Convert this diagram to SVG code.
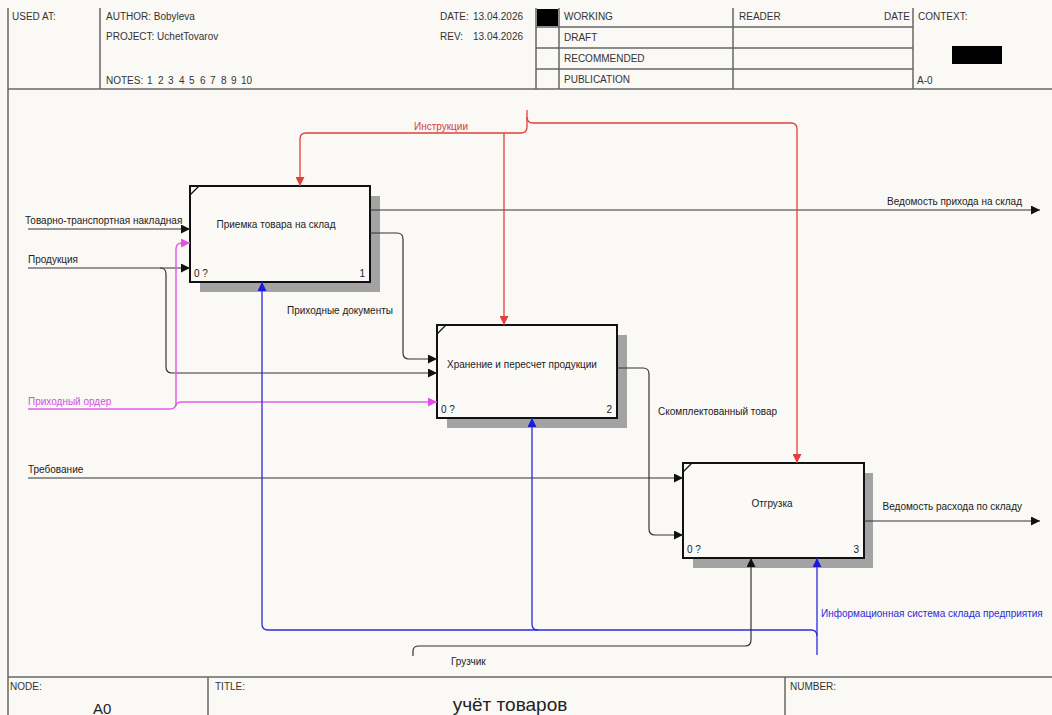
<svg xmlns="http://www.w3.org/2000/svg" width="1052" height="715" viewBox="0 0 1052 715">
<defs>
<style>
text{font-family:"Liberation Sans",Arial,sans-serif;font-size:10px;fill:#222}
.hd{font-size:10px;fill:#333}
.frame{fill:none;stroke:#666;stroke-width:1.5}
.box{fill:#fbfaf7;stroke:#111;stroke-width:2}
.shadow{fill:#a3a3a3}
.k{fill:none;stroke:#333;stroke-width:1.2}
.r{fill:none;stroke:#e0403a;stroke-width:1.3}
.b{fill:none;stroke:#2a2ae0;stroke-width:1.3}
.m{fill:none;stroke:#e060e8;stroke-width:1.5}
</style>
<marker id="ak" viewBox="0 0 10 10" refX="10" refY="5" markerWidth="9" markerHeight="9" markerUnits="userSpaceOnUse" orient="auto"><path d="M0,0 L10,5 L0,10 z" fill="#111"/></marker>
<marker id="ar" viewBox="0 0 10 10" refX="10" refY="5" markerWidth="9" markerHeight="9" markerUnits="userSpaceOnUse" orient="auto"><path d="M0,0 L10,5 L0,10 z" fill="#e0403a"/></marker>
<marker id="ab" viewBox="0 0 10 10" refX="10" refY="5" markerWidth="9" markerHeight="9" markerUnits="userSpaceOnUse" orient="auto"><path d="M0,0 L10,5 L0,10 z" fill="#1a1ae0"/></marker>
<marker id="am" viewBox="0 0 10 10" refX="10" refY="5" markerWidth="9" markerHeight="9" markerUnits="userSpaceOnUse" orient="auto"><path d="M0,0 L10,5 L0,10 z" fill="#e050e8"/></marker>
</defs>
<rect x="0" y="0" width="1052" height="715" fill="#faf9f5"/>

<g id="header">
<line class="frame" x1="8" y1="8" x2="8" y2="715"/>
<line class="frame" x1="8" y1="89" x2="1052" y2="89"/>
<line class="frame" x1="100" y1="8" x2="100" y2="89"/>
<line class="frame" x1="536" y1="8" x2="536" y2="89"/>
<line class="frame" x1="559" y1="8" x2="559" y2="89"/>
<line class="frame" x1="733" y1="8" x2="733" y2="89"/>
<line class="frame" x1="913" y1="8" x2="913" y2="89"/>
<line class="frame" x1="536" y1="27" x2="913" y2="27"/>
<line class="frame" x1="536" y1="48" x2="913" y2="48"/>
<line class="frame" x1="536" y1="69" x2="913" y2="69"/>
<rect x="537" y="9" width="21" height="17" fill="#000"/>
<rect x="952" y="46" width="50" height="18" fill="#000"/>
<text class="hd" x="12" y="20">USED AT:</text>
<text class="hd" x="106" y="20">AUTHOR:  Bobyleva</text>
<text class="hd" x="106" y="40">PROJECT:  UchetTovarov</text>
<text class="hd" x="106" y="84">NOTES:</text>
<text class="hd" y="84"><tspan x="147">1</tspan><tspan x="158">2</tspan><tspan x="168">3</tspan><tspan x="179">4</tspan><tspan x="189">5</tspan><tspan x="200">6</tspan><tspan x="210">7</tspan><tspan x="221">8</tspan><tspan x="231">9</tspan><tspan x="241">10</tspan></text>
<text class="hd" x="440" y="20">DATE:</text>
<text class="hd" x="473" y="20">13.04.2026</text>
<text class="hd" x="440" y="40">REV:</text>
<text class="hd" x="473" y="40">13.04.2026</text>
<text class="hd" x="564" y="20">WORKING</text>
<text class="hd" x="564" y="41">DRAFT</text>
<text class="hd" x="564" y="62">RECOMMENDED</text>
<text class="hd" x="564" y="83">PUBLICATION</text>
<text class="hd" x="739" y="20">READER</text>
<text class="hd" x="910" y="20" text-anchor="end">DATE</text>
<text class="hd" x="918" y="20">CONTEXT:</text>
<text class="hd" x="917" y="84">A-0</text>
</g>

<g id="footer">
<line class="frame" x1="8" y1="677" x2="1052" y2="677"/>
<line class="frame" x1="208" y1="677" x2="208" y2="715"/>
<line class="frame" x1="785" y1="677" x2="785" y2="715"/>
<text class="hd" x="10" y="690">NODE:</text>
<text class="hd" x="215" y="690">TITLE:</text>
<text class="hd" x="790" y="690">NUMBER:</text>
<text x="93" y="714" style="font-size:15px">A0</text>
<text x="510" y="711" text-anchor="middle" style="font-size:19px">учёт товаров</text>
</g>

<g id="node1">
<rect class="shadow" x="200" y="196" width="180" height="96"/>
<rect class="box" x="190" y="186" width="180" height="96"/>
<line x1="190" y1="195" x2="199" y2="186" stroke="#111" stroke-width="1.2"/>
<text x="276" y="228" text-anchor="middle">Приемка товара на склад</text>
<text x="194" y="277">0 ?</text>
<text x="365" y="277" text-anchor="end">1</text>
</g>

<g id="node2">
<rect class="shadow" x="447" y="335" width="180" height="93"/>
<rect class="box" x="437" y="325" width="180" height="93"/>
<line x1="437" y1="334" x2="446" y2="325" stroke="#111" stroke-width="1.2"/>
<text x="522" y="368" text-anchor="middle">Хранение и пересчет продукции</text>
<text x="441" y="413">0 ?</text>
<text x="612" y="413" text-anchor="end">2</text>
</g>

<g id="node3">
<rect class="shadow" x="693" y="473" width="180" height="95"/>
<rect class="box" x="683" y="463" width="181" height="95"/>
<line x1="683" y1="472" x2="692" y2="463" stroke="#111" stroke-width="1.2"/>
<text x="772" y="507" text-anchor="middle">Отгрузка</text>
<text x="687" y="553">0 ?</text>
<text x="859" y="553" text-anchor="end">3</text>
</g>

<g id="connectors">
<path class="k" d="M28,229 H190" marker-end="url(#ak)"/>
<text x="25" y="224">Товарно-транспортная накладная</text>
<path class="k" d="M28,268 H190" marker-end="url(#ak)"/>
<path class="k" d="M160,268 Q166,268 166,274 V367 Q166,373 172,373 H437" marker-end="url(#ak)"/>
<text x="28" y="263">Продукция</text>
<path class="m" d="M28,409 H170 Q176,409 176,403 V249 Q176,243 182,243 H190" marker-end="url(#am)"/>
<path class="m" d="M176,406 Q176,402 182,402 H437" marker-end="url(#am)"/>
<text x="28" y="405" style="fill:#d050e0">Приходный ордер</text>
<path class="k" d="M28,478 H683" marker-end="url(#ak)"/>
<text x="28" y="473">Требование</text>
<path class="k" d="M370,210 H1040" marker-end="url(#ak)"/>
<text x="1022" y="205" text-anchor="end">Ведомость прихода на склад</text>
<path class="k" d="M370,233 H397 Q403,233 403,239 V353 Q403,359 409,359 H437" marker-end="url(#ak)"/>
<text x="287" y="314">Приходные документы</text>
<path class="k" d="M617,368 H643 Q649,368 649,374 V529 Q649,535 655,535 H683" marker-end="url(#ak)"/>
<text x="658" y="415">Скомплектованный товар</text>
<path class="k" d="M864,521 H1040" marker-end="url(#ak)"/>
<text x="1022" y="510" text-anchor="end">Ведомость расхода по складу</text>
<path class="r" d="M527,110 V127 Q527,133 521,133 H306 Q300,133 300,139 V186" marker-end="url(#ar)"/>
<path class="r" d="M527,117 Q527,123 533,123 H791 Q797,123 797,129 V463" marker-end="url(#ar)"/>
<path class="r" d="M504,133 V325" marker-end="url(#ar)"/>
<text x="441" y="130" text-anchor="middle" style="fill:#d83a36">Инструкции</text>
<path class="b" d="M817,655 V558" marker-end="url(#ab)"/>
<path class="b" d="M817,636 Q817,630 811,630 H268 Q262,630 262,624 V282" marker-end="url(#ab)"/>
<path class="b" d="M538,630 Q532,630 532,624 V418" marker-end="url(#ab)"/>
<text x="821" y="617" style="fill:#2a2ad8">Информационная система склада предприятия</text>
<path class="k" d="M413,656 V651 Q413,646 419,646 H745 Q751,646 751,640 V558" marker-end="url(#ak)"/>
<text x="451" y="665">Грузчик</text>
</g>
</svg>
